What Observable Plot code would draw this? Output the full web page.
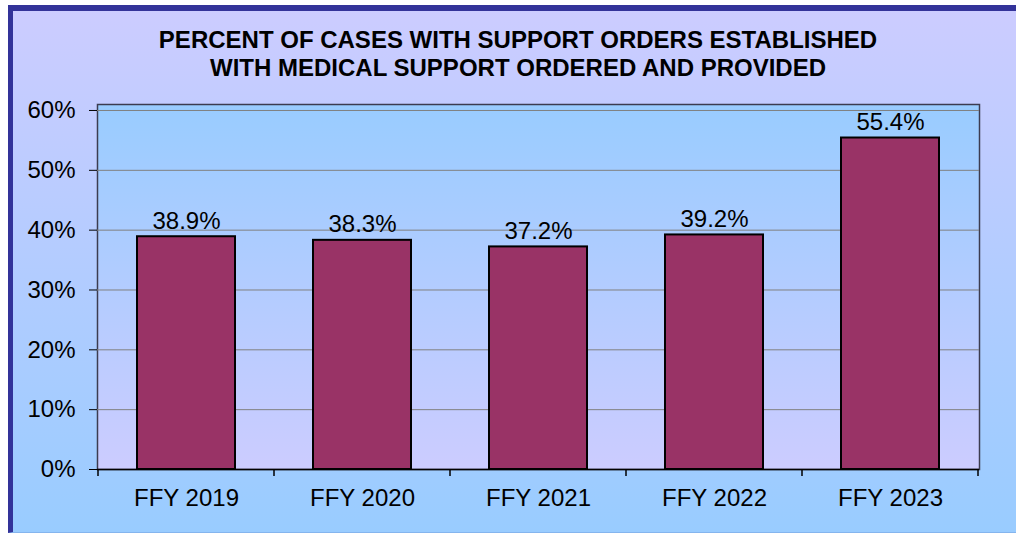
<!DOCTYPE html>
<html><head><meta charset="utf-8">
<script src="https://cdn.jsdelivr.net/npm/d3@7"></script>
<script src="https://cdn.jsdelivr.net/npm/@observablehq/plot@0.6"></script>
<style>
html,body{margin:0;padding:0;width:1016px;height:533px;overflow:hidden;background:#fff;}
#box{position:absolute;left:8px;top:5px;width:1008px;height:528px;box-sizing:border-box;border-left:5px solid #333399;border-top:6px solid #333399;border-bottom:1px solid #85b5ee;background:linear-gradient(to bottom,#CCCCFF,#99CCFF);}
#title{position:absolute;left:18px;top:26px;width:1000px;text-align:center;font:bold 24px "Liberation Sans",Arial,sans-serif;line-height:28px;color:#000;white-space:nowrap;}
#chart{position:absolute;left:0;top:90px;}
</style></head><body>
<div id="box"></div>
<div id="title">PERCENT OF CASES WITH SUPPORT ORDERS ESTABLISHED<br>WITH MEDICAL SUPPORT ORDERED AND PROVIDED</div>
<div id="chart"></div>
<script>
const categories = ["FFY 2019", "FFY 2020", "FFY 2021", "FFY 2022", "FFY 2023"];
const values = [38.9, 38.3, 37.2, 39.2, 55.4];
const valueLabels = ["38.9%", "38.3%", "37.2%", "39.2%", "55.4%"];
const yTicks = [0, 10, 20, 30, 40, 50, 60];
const gridTicks = [10, 20, 30, 40, 50, 60];

const data = categories.map((c, i) => ({cat: c, val: values[i], label: valueLabels[i]}));

const defs = () => {
  const d = d3.create("svg:defs");
  const g = d.append("linearGradient").attr("id", "plotgrad")
    .attr("x1", 0).attr("y1", 0).attr("x2", 0).attr("y2", 1);
  g.append("stop").attr("offset", "0%").attr("stop-color", "#99CCFF");
  g.append("stop").attr("offset", "100%").attr("stop-color", "#CCCCFF");
  return d.node();
};

function boundaryTicks(index, scales, values, dimensions) {
  const x = scales.x;
  const bw = x.bandwidth();
  const n = categories.length;
  const step = typeof x.step === "function" ? x.step()
    : (dimensions.width - dimensions.marginLeft - dimensions.marginRight) / n;
  const y0 = dimensions.height - dimensions.marginBottom;
  const xs = categories.map(c => x(c) - (step - bw) / 2);
  xs.push(x(categories[n - 1]) + bw + (step - bw) / 2);
  const g = d3.create("svg:g").attr("stroke", "#000").attr("stroke-width", 1.5);
  for (const px of xs) g.append("line").attr("x1", px).attr("x2", px).attr("y1", y0).attr("y2", y0 + 7);
  return g.node();
}

const chart = Plot.plot({
  width: 1016, height: 443,
  marginTop: 14, marginBottom: 64, marginLeft: 97, marginRight: 37,
  style: {background: "transparent", fontFamily: '"Liberation Sans", Arial, sans-serif', fontSize: "24px", color: "#000", overflow: "visible"},
  x: {domain: categories, paddingInner: 0.444, paddingOuter: 0.222, label: null},
  y: {domain: [0, 61], label: null},
  marks: [
    defs,
    Plot.frame({fill: "url(#plotgrad)", stroke: "#3c3c50", strokeWidth: 1.5}),
    Plot.ruleY(gridTicks, {stroke: "#808080", strokeWidth: 1}),
    Plot.barY(data, {x: "cat", y: "val", fill: "#993366", stroke: "#000", strokeWidth: 2}),
    Plot.text(data, {x: "cat", y: "val", text: "label", lineAnchor: "bottom", dy: -8, fill: "#000", fontSize: 24}),
    Plot.ruleY([0], {stroke: "#000", strokeWidth: 1.5}),
    Plot.axisY({ticks: yTicks, tickFormat: d => d + "%", tickSize: 8, tickPadding: 14, label: null, fontSize: 24}),
    Plot.axisX({tickSize: 0, tickPadding: 19, label: null, fontSize: 24}),
    boundaryTicks
  ]
});
document.getElementById("chart").append(chart);
</script></body></html>
